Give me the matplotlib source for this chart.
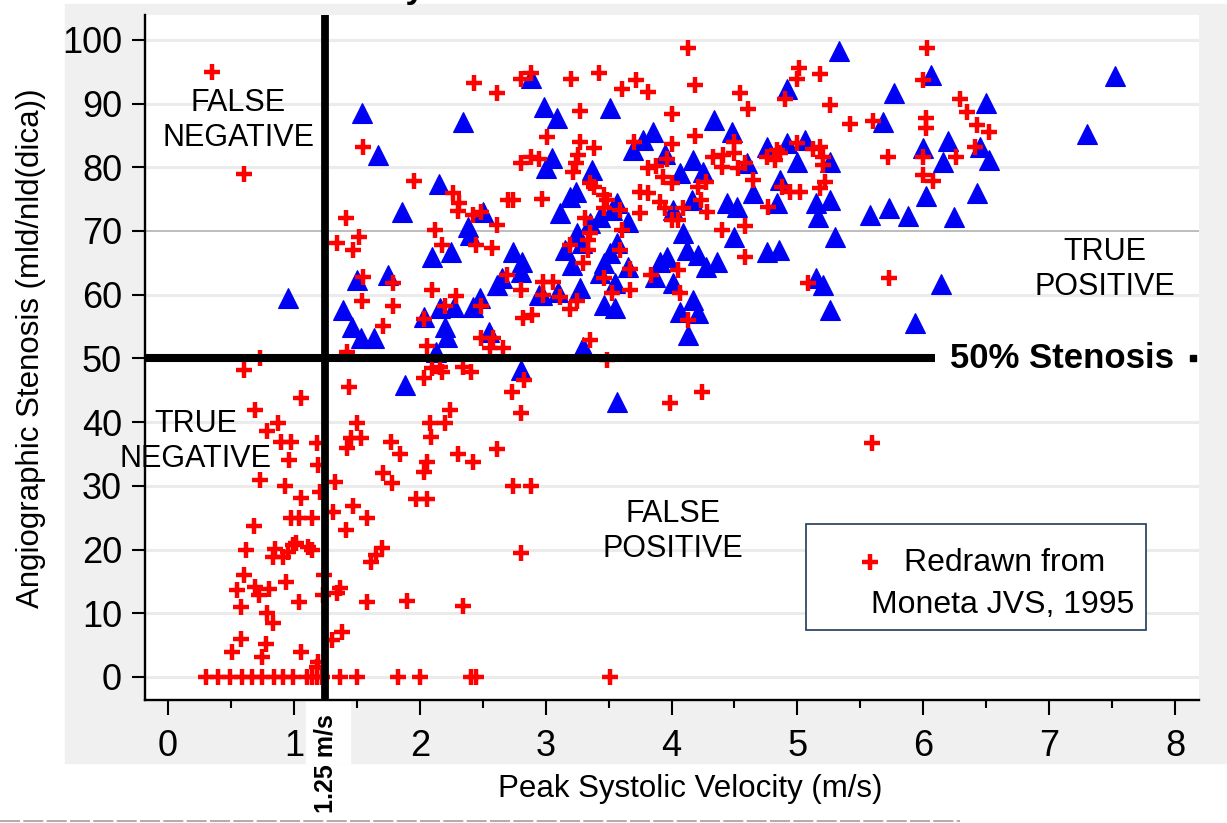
import matplotlib.pyplot as plt
from matplotlib.patches import Rectangle
from matplotlib.lines import Line2D
import matplotlib.transforms as mtransforms

plt.rcParams['font.family'] = ['Liberation Sans', 'DejaVu Sans']

# Moneta JVS 1995 (red crosses): (peak systolic velocity m/s, stenosis %)
moneta_points = [
    (0.35, 95), (0.60, 79), (0.60, 48.2), (0.73, 50), (1.06, 43.8), (0.69, 41.9),
    (0.87, 39.9), (0.79, 38.6), (0.90, 36.9), (0.98, 36.9), (1.18, 36.7), (0.96, 34.1),
    (1.19, 33.3), (0.73, 30.9), (0.93, 30.0), (1.21, 29.0), (1.06, 28.1), (0.98, 25.0),
    (1.04, 25.0), (1.14, 25.0), (0.68, 23.7), (0.62, 19.9), (0.85, 20.1), (0.83, 18.8),
    (0.91, 18.8), (0.95, 19.6), (0.99, 20.7), (1.02, 21.0), (1.11, 20.4), (1.14, 19.9),
    (0.60, 16.0), (0.55, 13.7), (0.69, 14.1), (0.72, 12.9), (0.80, 13.8), (0.94, 14.9),
    (0.58, 11.0), (1.04, 11.8), (0.79, 10.0), (0.83, 8.5), (1.24, 16.0), (1.23, 12.9),
    (0.58, 6.0), (0.51, 3.9), (0.78, 5.2), (0.75, 3.1), (1.06, 3.9), (1.19, 2.4), (1.18, 1.6),
    # right of the 1.25 m/s cut, below 50 %
    (1.33, 30.6), (1.31, 25.9), (1.47, 26.8), (1.58, 25.0), (1.41, 23.1), (1.37, 14.0),
    (1.34, 13.2), (1.58, 11.8), (1.38, 7.1), (1.30, 5.8), (1.61, 18.0), (1.65, 19.2),
    (1.70, 20.2), (1.71, 32.0), (1.78, 30.5), (2.03, 32.2), (2.06, 33.7), (2.42, 33.7),
    (2.74, 30.0), (2.88, 30.0), (1.97, 27.9), (2.06, 27.9), (2.80, 19.5), (1.90, 11.9),
    (2.34, 11.1), (1.44, 45.5), (2.03, 46.9), (2.10, 48.5), (2.18, 47.9), (2.16, 48.7),
    (2.34, 48.7), (2.41, 47.9), (2.24, 41.9), (2.08, 39.9), (2.20, 39.9), (2.09, 37.7),
    (1.50, 39.9), (1.45, 37.5), (1.53, 37.5), (1.42, 36.0), (1.77, 36.9), (1.84, 35.0),
    (2.30, 35.0), (2.61, 35.8), (2.83, 46.6), (2.73, 44.7), (2.80, 41.4), (3.99, 43.0),
    (4.24, 44.7), (5.59, 36.7), (3.49, 49.8),
    # above 50 %
    (1.34, 68.1), (1.52, 69.1), (1.47, 67.0), (1.55, 62.8), (1.79, 61.8), (1.54, 59.0),
    (1.79, 58.2), (1.71, 55.1), (1.42, 51.0), (2.10, 60.8), (2.29, 59.8), (2.20, 58.2),
    (2.49, 58.2), (2.03, 56.2), (2.06, 52.0), (2.49, 53.2), (2.58, 53.2), (2.56, 51.6),
    (2.66, 51.6), (2.18, 67.8), (2.45, 67.8), (2.57, 67.3), (2.69, 63.1), (2.80, 60.8),
    (2.98, 62.0), (2.98, 60.0), (2.82, 56.4), (2.89, 56.8), (2.12, 70.2),
    (1.55, 83.2), (1.95, 77.9), (2.26, 76.0), (2.31, 74.4), (2.30, 73.2), (2.42, 72.5),
    (2.49, 73.0), (2.61, 71.0), (2.43, 93.2), (2.61, 91.7), (1.41, 72.0), (2.70, 74.9),
    (4.13, 98.7), (2.80, 93.9), (2.88, 94.8), (3.20, 93.9), (3.42, 94.8), (3.61, 92.3),
    (3.72, 93.7), (3.81, 91.8), (4.19, 92.9), (4.54, 91.7), (4.61, 89.2), (5.01, 95.6),
    (5.00, 93.9), (5.18, 94.7), (4.90, 90.7), (5.26, 89.8), (5.42, 86.8), (3.27, 88.9),
    (4.00, 88.4), (3.01, 84.8), (4.19, 84.9), (4.00, 83.7), (2.80, 80.7), (2.88, 81.6),
    (2.95, 81.3), (3.27, 84.0), (3.38, 83.0), (3.26, 81.9), (3.24, 80.7), (3.22, 79.3),
    (3.70, 84.0), (3.96, 81.3), (3.81, 79.9), (3.88, 80.2), (3.93, 78.5), (4.00, 77.6),
    (4.33, 81.6), (4.41, 81.9), (4.50, 84.0), (4.50, 82.3), (4.40, 80.1), (4.53, 79.9),
    (4.58, 80.7), (4.65, 78.0), (4.76, 81.6), (4.84, 82.7), (4.82, 81.2), (4.86, 82.3),
    (5.00, 83.8), (5.12, 82.9), (5.18, 83.2), (5.20, 81.6), (5.20, 80.4), (5.22, 77.7),
    (5.18, 76.8), (4.88, 76.9), (4.94, 76.1), (5.02, 76.1), (4.77, 73.8), (4.58, 70.8),
    (4.40, 70.2), (4.27, 77.7), (4.21, 76.9), (4.23, 74.9), (4.28, 73.0), (4.09, 73.6),
    (3.91, 74.6), (3.95, 73.6), (4.00, 71.7), (4.05, 71.7), (3.81, 76.0), (3.75, 76.1),
    (3.75, 72.8), (3.59, 73.3), (3.61, 70.2), (3.46, 73.6), (3.31, 72.1), (3.35, 69.7),
    (3.38, 76.9), (3.46, 75.7), (3.49, 74.9), (3.35, 77.5), (2.74, 74.9), (2.97, 75.0),
    (3.19, 67.8), (3.34, 68.6), (3.34, 67.0), (3.59, 67.0), (3.30, 65.0), (3.06, 62.0),
    (3.11, 59.7), (3.25, 59.0), (3.19, 57.8), (3.46, 62.6), (3.53, 60.3), (3.67, 60.8),
    (3.67, 64.0), (3.84, 63.1), (4.05, 63.9), (4.07, 60.3), (4.13, 56.0), (3.35, 52.9),
    (4.58, 65.9), (5.08, 61.8),
    (6.03, 98.7), (6.00, 93.7), (6.29, 90.7), (6.35, 88.7), (5.60, 87.3), (6.02, 87.8),
    (6.02, 86.2), (6.43, 86.7), (6.52, 85.6), (5.72, 81.6), (6.00, 81.6), (6.26, 81.6),
    (6.41, 83.2), (6.00, 78.8), (6.08, 77.9), (5.73, 62.6),
]
# red crosses sitting on 0 % stenosis
moneta_zero_v = [0.30, 0.40, 0.49, 0.59, 0.67, 0.75, 0.84, 0.91, 0.99, 1.10, 1.14,
                 1.18, 1.22, 1.37, 1.50, 1.83, 2.00, 2.41, 2.45, 3.51]

# blue triangles
triangle_points = [
    (0.95, 59.5),
    (1.54, 88.5), (1.67, 82.0), (2.34, 87.1), (2.15, 77.4), (1.86, 73.0), (2.50, 73.0),
    (2.38, 70.6), (1.50, 62.3), (1.75, 63.1), (1.39, 57.6), (1.46, 55.0), (1.53, 53.2),
    (1.64, 53.2), (1.88, 45.8), (2.10, 65.9), (2.25, 66.7), (2.03, 56.5), (2.16, 57.9),
    (2.27, 58.1), (2.20, 55.0), (2.22, 53.4), (2.13, 51.0), (2.42, 58.1), (2.48, 59.5),
    (2.61, 61.5), (2.65, 62.6), (2.74, 66.7), (2.81, 65.1), (2.80, 63.6), (2.97, 60.0),
    (2.55, 54.2), (2.80, 48.2), (2.40, 69.4),
    (2.88, 94.0), (2.99, 89.5), (3.09, 87.8), (3.51, 89.3), (4.34, 87.4), (4.48, 85.6),
    (4.92, 92.3), (5.33, 98.3), (3.05, 81.5), (3.00, 79.9), (3.77, 84.3), (3.85, 85.6),
    (3.69, 82.7), (3.95, 82.1), (4.17, 81.2), (4.07, 79.1), (4.25, 79.3), (3.37, 79.6),
    (3.24, 76.1), (4.60, 80.7), (4.76, 83.2), (4.92, 83.8), (5.06, 84.3), (5.00, 80.8),
    (5.26, 80.8), (4.86, 78.0), (4.65, 76.0), (4.44, 74.4), (4.52, 73.8), (4.84, 74.4),
    (5.15, 74.4), (5.26, 74.9), (5.16, 72.2), (5.58, 72.5), (5.30, 69.1), (4.50, 69.1),
    (4.09, 69.7), (4.01, 73.3), (4.16, 74.9), (3.11, 72.8), (3.19, 75.4), (3.57, 74.4),
    (3.53, 73.3), (3.65, 71.4), (3.43, 72.2), (3.35, 71.3), (3.25, 69.7),
    (3.15, 67.0), (3.29, 68.1), (3.21, 64.7), (3.46, 65.0), (3.51, 66.6), (3.57, 68.1),
    (3.43, 63.4), (3.65, 64.4), (3.55, 61.9), (3.46, 58.4), (3.55, 57.9), (2.95, 60.0),
    (3.10, 60.4), (3.27, 61.1), (3.30, 51.8), (3.57, 43.2), (3.91, 65.1), (3.96, 65.9),
    (3.87, 62.8), (4.01, 61.8), (4.12, 67.0), (4.21, 66.2), (4.27, 64.4), (4.36, 65.1),
    (4.17, 59.2), (4.07, 57.3), (4.21, 57.1), (4.13, 53.7), (4.76, 66.7), (4.85, 67.0),
    (5.15, 62.6), (5.20, 61.5), (5.26, 57.6),
    (6.06, 94.5), (5.77, 91.7), (6.50, 90.1), (5.68, 87.1), (7.52, 94.3), (7.30, 85.2),
    (6.00, 83.0), (6.20, 84.2), (6.16, 80.8), (6.45, 83.2), (6.52, 81.1), (6.02, 75.5),
    (6.43, 76.0), (5.73, 73.6), (5.88, 72.4), (6.24, 72.2), (6.14, 61.7), (5.93, 55.6),
]

velocity_cut = 1.25
stenosis_cut = 50
stenosis_ref = 70
x_ticks = list(range(0, 9))
y_ticks = list(range(0, 101, 10))

red_v = [p[0] for p in moneta_points] + moneta_zero_v
red_s = [p[1] for p in moneta_points] + [0] * len(moneta_zero_v)
tri_v = [p[0] for p in triangle_points]
tri_s = [p[1] for p in triangle_points]

W, H = 1227, 823
fig = plt.figure(figsize=(W / 100, H / 100), dpi=100)
fig.patch.set_facecolor('white')

# grey panel behind the plot, with a white gap under the 1.25 m/s label
fig.patches.append(Rectangle((65 / W, 1 - 763 / H), (W - 65) / W, (763 - 4) / H,
                             transform=fig.transFigure, color='#f0f0f0', zorder=-2))
fig.patches.append(Rectangle((306 / W, 1 - 763 / H), 44 / W, 64 / H,
                             transform=fig.transFigure, color='white', zorder=-1))
fig.lines.append(Line2D([0, 960 / W], [1 - 821 / H] * 2, transform=fig.transFigure,
                        color='#a0a0a0', lw=1.2, ls=(0, (12, 2))))

ax = fig.add_axes([145 / W, 1 - 700 / H, (1199 - 145) / W, (700 - 15) / H])
ax.set_facecolor('white')
xlim = (-0.183, 8.19)
ax.set_xlim(*xlim)
ax.set_ylim(-3.61, 103.9)

for v in y_ticks:
    if v in (stenosis_cut, stenosis_ref):
        continue
    ax.axhline(v, color='#ebebeb', lw=2.2, zorder=1)
ax.axhline(stenosis_ref, color='#bdbdbd', lw=1.4, zorder=1)

ax.plot(tri_v, tri_s, '^', color='#0000f5', mec='#0000f5', mew=0.8, ms=15,
        ls='none', zorder=3)
ax.plot(red_v, red_s, '+', color='#ff0000', ms=11.5, mew=3.2, ls='none', zorder=4)

ax.axvline(velocity_cut, color='black', lw=5.6, zorder=5)
ax.hlines(stenosis_cut, xlim[0], 6.09, color='black', lw=5.8, zorder=5)
ax.text(6.21, stenosis_cut, '50% Stenosis', fontsize=25, fontweight='bold',
        ha='left', va='center', zorder=6)
ax.plot([8.14], [stenosis_cut], 's', color='black', ms=4.5, zorder=6, clip_on=False)

quad_kw = dict(fontsize=22, ha='center', va='center', zorder=6, linespacing=1.2)
ax.text(0.556, 87.3, 'FALSE\nNEGATIVE', **quad_kw)
ax.text(0.22, 37.0, 'TRUE\nNEGATIVE', **quad_kw)
ax.text(4.01, 22.8, 'FALSE\nPOSITIVE', **quad_kw)
ax.text(7.44, 64.0, 'TRUE\nPOSITIVE', **quad_kw)

# legend box drawn by hand: marker beside the first line only
ax.add_patch(Rectangle((0.627, 0.102), 0.323, 0.155, transform=ax.transAxes,
                       facecolor='white', edgecolor='#1f3a5a', lw=1.2, zorder=7))
ax.plot([0.688], [0.2015], '+', color='#ff0000', ms=12, mew=3.2, transform=ax.transAxes,
        zorder=8)
ax.text(0.816, 0.200, 'Redrawn from', transform=ax.transAxes, fontsize=23,
        ha='center', va='center', zorder=8)
ax.text(0.814, 0.139, 'Moneta JVS, 1995', transform=ax.transAxes, fontsize=23,
        ha='center', va='center', zorder=8)

for side in ('top', 'right'):
    ax.spines[side].set_visible(False)
for side in ('left', 'bottom'):
    ax.spines[side].set_linewidth(1.7)
    ax.spines[side].set_zorder(6)

ax.set_xticks(x_ticks)
ax.set_xticks([t + 0.5 for t in x_ticks[:-1]], minor=True)
ax.set_yticks(y_ticks)
ax.tick_params(axis='x', which='major', length=11, width=1.5, pad=10, labelsize=26)
ax.tick_params(axis='x', which='minor', length=6, width=1.5)
ax.tick_params(axis='y', which='major', length=9.5, width=1.5, pad=7, labelsize=26)

ax.set_xlabel('Peak Systolic Velocity (m/s)', fontsize=22.5)
ax.xaxis.set_label_coords(0.517, -0.1085)
ax.set_ylabel('Angiographic Stenosis (mld/nld(dica))', fontsize=22.5)
ax.yaxis.set_label_coords(-0.0935, (700 - 348) / 685)

trans = mtransforms.blended_transform_factory(ax.transData, ax.transAxes)
ax.text(velocity_cut, (700 - 764) / 685, '1.25 m/s', transform=trans, rotation=90,
        fontsize=18, fontweight='bold', ha='center', va='center', clip_on=False)

# title cut off at the top edge of the original picture
fig.text(425 / W, 1 + 2 / H, 'Sensitivity', fontsize=25, fontweight='bold',
         ha='right', va='baseline')

fig.savefig('out.png', dpi=100)
